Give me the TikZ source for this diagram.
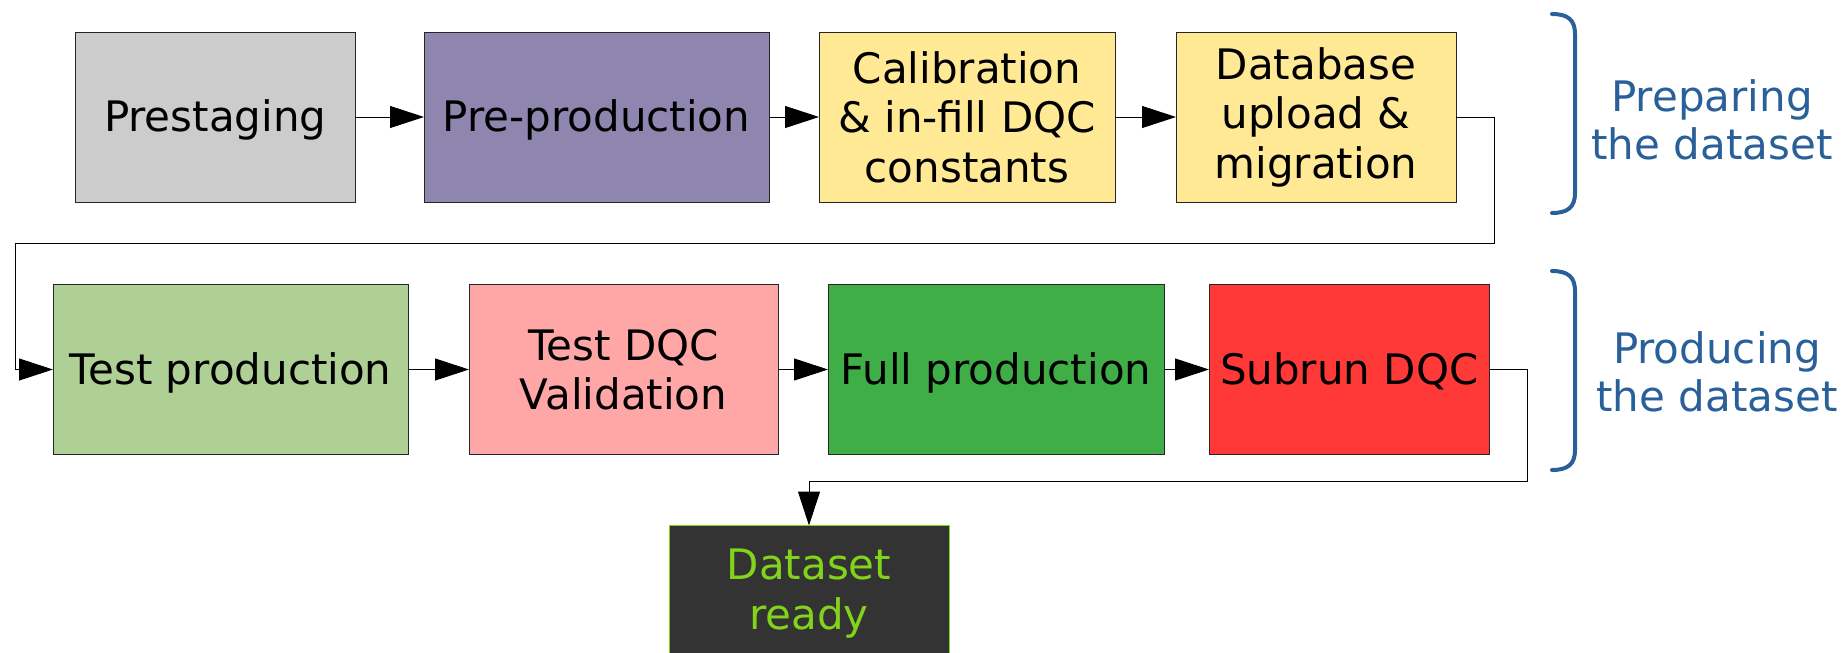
\documentclass[tikz,border=0pt]{standalone}
\usepackage{fontspec}
\setmainfont{DejaVu Sans}
\usetikzlibrary{arrows.meta}

\definecolor{prestagefill}{HTML}{CCCCCC}
\definecolor{preprodfill}{HTML}{8E86AE}
\definecolor{calibfill}{HTML}{FFE994}
\definecolor{testprodfill}{HTML}{AFD095}
\definecolor{testdqcfill}{HTML}{FFA6A6}
\definecolor{fullprodfill}{HTML}{40AE47}
\definecolor{subrunfill}{HTML}{FF3838}
\definecolor{readyfill}{HTML}{333333}
\definecolor{readygreen}{HTML}{81D41A}
\definecolor{phaseblue}{HTML}{2A6099}

\begin{document}
\begin{tikzpicture}[x=0.5pt, y=-0.5pt,
  stagebox/.style={draw=black!85, line width=0.5pt, outer sep=0pt, inner sep=0pt,
    align=center, font=\fontsize{21pt}{24.75pt}\selectfont, minimum height=85pt},
  oneline/.style={text height=19.5pt, text depth=5pt},
  flow/.style={draw=black, line width=0.5pt, -{Triangle[length=17pt,width=11pt]}},
  bracket/.style={draw=phaseblue, line width=2pt, line cap=round},
  phaselabel/.style={text=phaseblue, align=center, inner sep=0pt,
    font=\fontsize{21pt}{24pt}\selectfont}
]
\useasboundingbox (0,0) rectangle (1847,653);

% first row: preparing the dataset
\node[stagebox, oneline, fill=prestagefill, minimum width=139.75pt] (prestage) at (215.25,117) {Prestaging};
\node[stagebox, oneline, fill=preprodfill, minimum width=172.5pt] (preprod) at (596.5,117) {Pre-production};
\node[stagebox, fill=calibfill, minimum width=148pt] (calib) at (967,117) {Calibration\\\& in-fill DQC\\constants};
\node[stagebox, fill=calibfill, minimum width=140pt] (dbup) at (1316,117) {Database\\upload \&\\migration};

% second row: producing the dataset
\node[stagebox, oneline, fill=testprodfill, minimum width=177.75pt] (testprod) at (230.75,369.5) {Test production};
\node[stagebox, fill=testdqcfill, minimum width=154.5pt] (testdqc) at (623.5,369.5) {Test DQC\\Validation};
\node[stagebox, oneline, fill=fullprodfill, minimum width=168pt] (fullprod) at (996,369.5) {Full production};
\node[stagebox, oneline, fill=subrunfill, minimum width=140.25pt] (subrun) at (1349.25,369.5) {Subrun DQC};

% final state
\node[stagebox, fill=readyfill, draw=readygreen, text=readygreen,
      minimum width=140pt, minimum height=68pt] (ready) at (809,593.5) {Dataset\\ready};

% connectors
\draw[flow] (prestage.east) -- (preprod.west);
\draw[flow] (preprod.east) -- (calib.west);
\draw[flow] (calib.east) -- (dbup.west);
\coordinate (wrapA) at (1494,243.5);
\coordinate (wrapB) at (15,243.5);
\draw[flow] (dbup.east) -| (wrapA) -- (wrapB) |- (testprod.west);
\draw[flow] (testprod.east) -- (testdqc.west);
\draw[flow] (testdqc.east) -- (fullprod.west);
\draw[flow] (fullprod.east) -- (subrun.west);
\coordinate (wrapC) at (1527,481.5);
\draw[flow] (subrun.east) -| (wrapC) -| (ready.north);

% phase brackets and labels
\draw[bracket] (1552,14) .. controls (1568,14) and (1575,20) .. (1575,34)
  -- (1575,193) .. controls (1575,207) and (1568,213) .. (1552,213);
\node[phaselabel] (prepare) at (1712,120) {Preparing\\the dataset};

\draw[bracket] (1552,271) .. controls (1568,271) and (1575,277) .. (1575,291)
  -- (1575,450) .. controls (1575,464) and (1568,470) .. (1552,470);
\node[phaselabel] (produce) at (1717,372) {Producing\\the dataset};
\end{tikzpicture}
\end{document}
